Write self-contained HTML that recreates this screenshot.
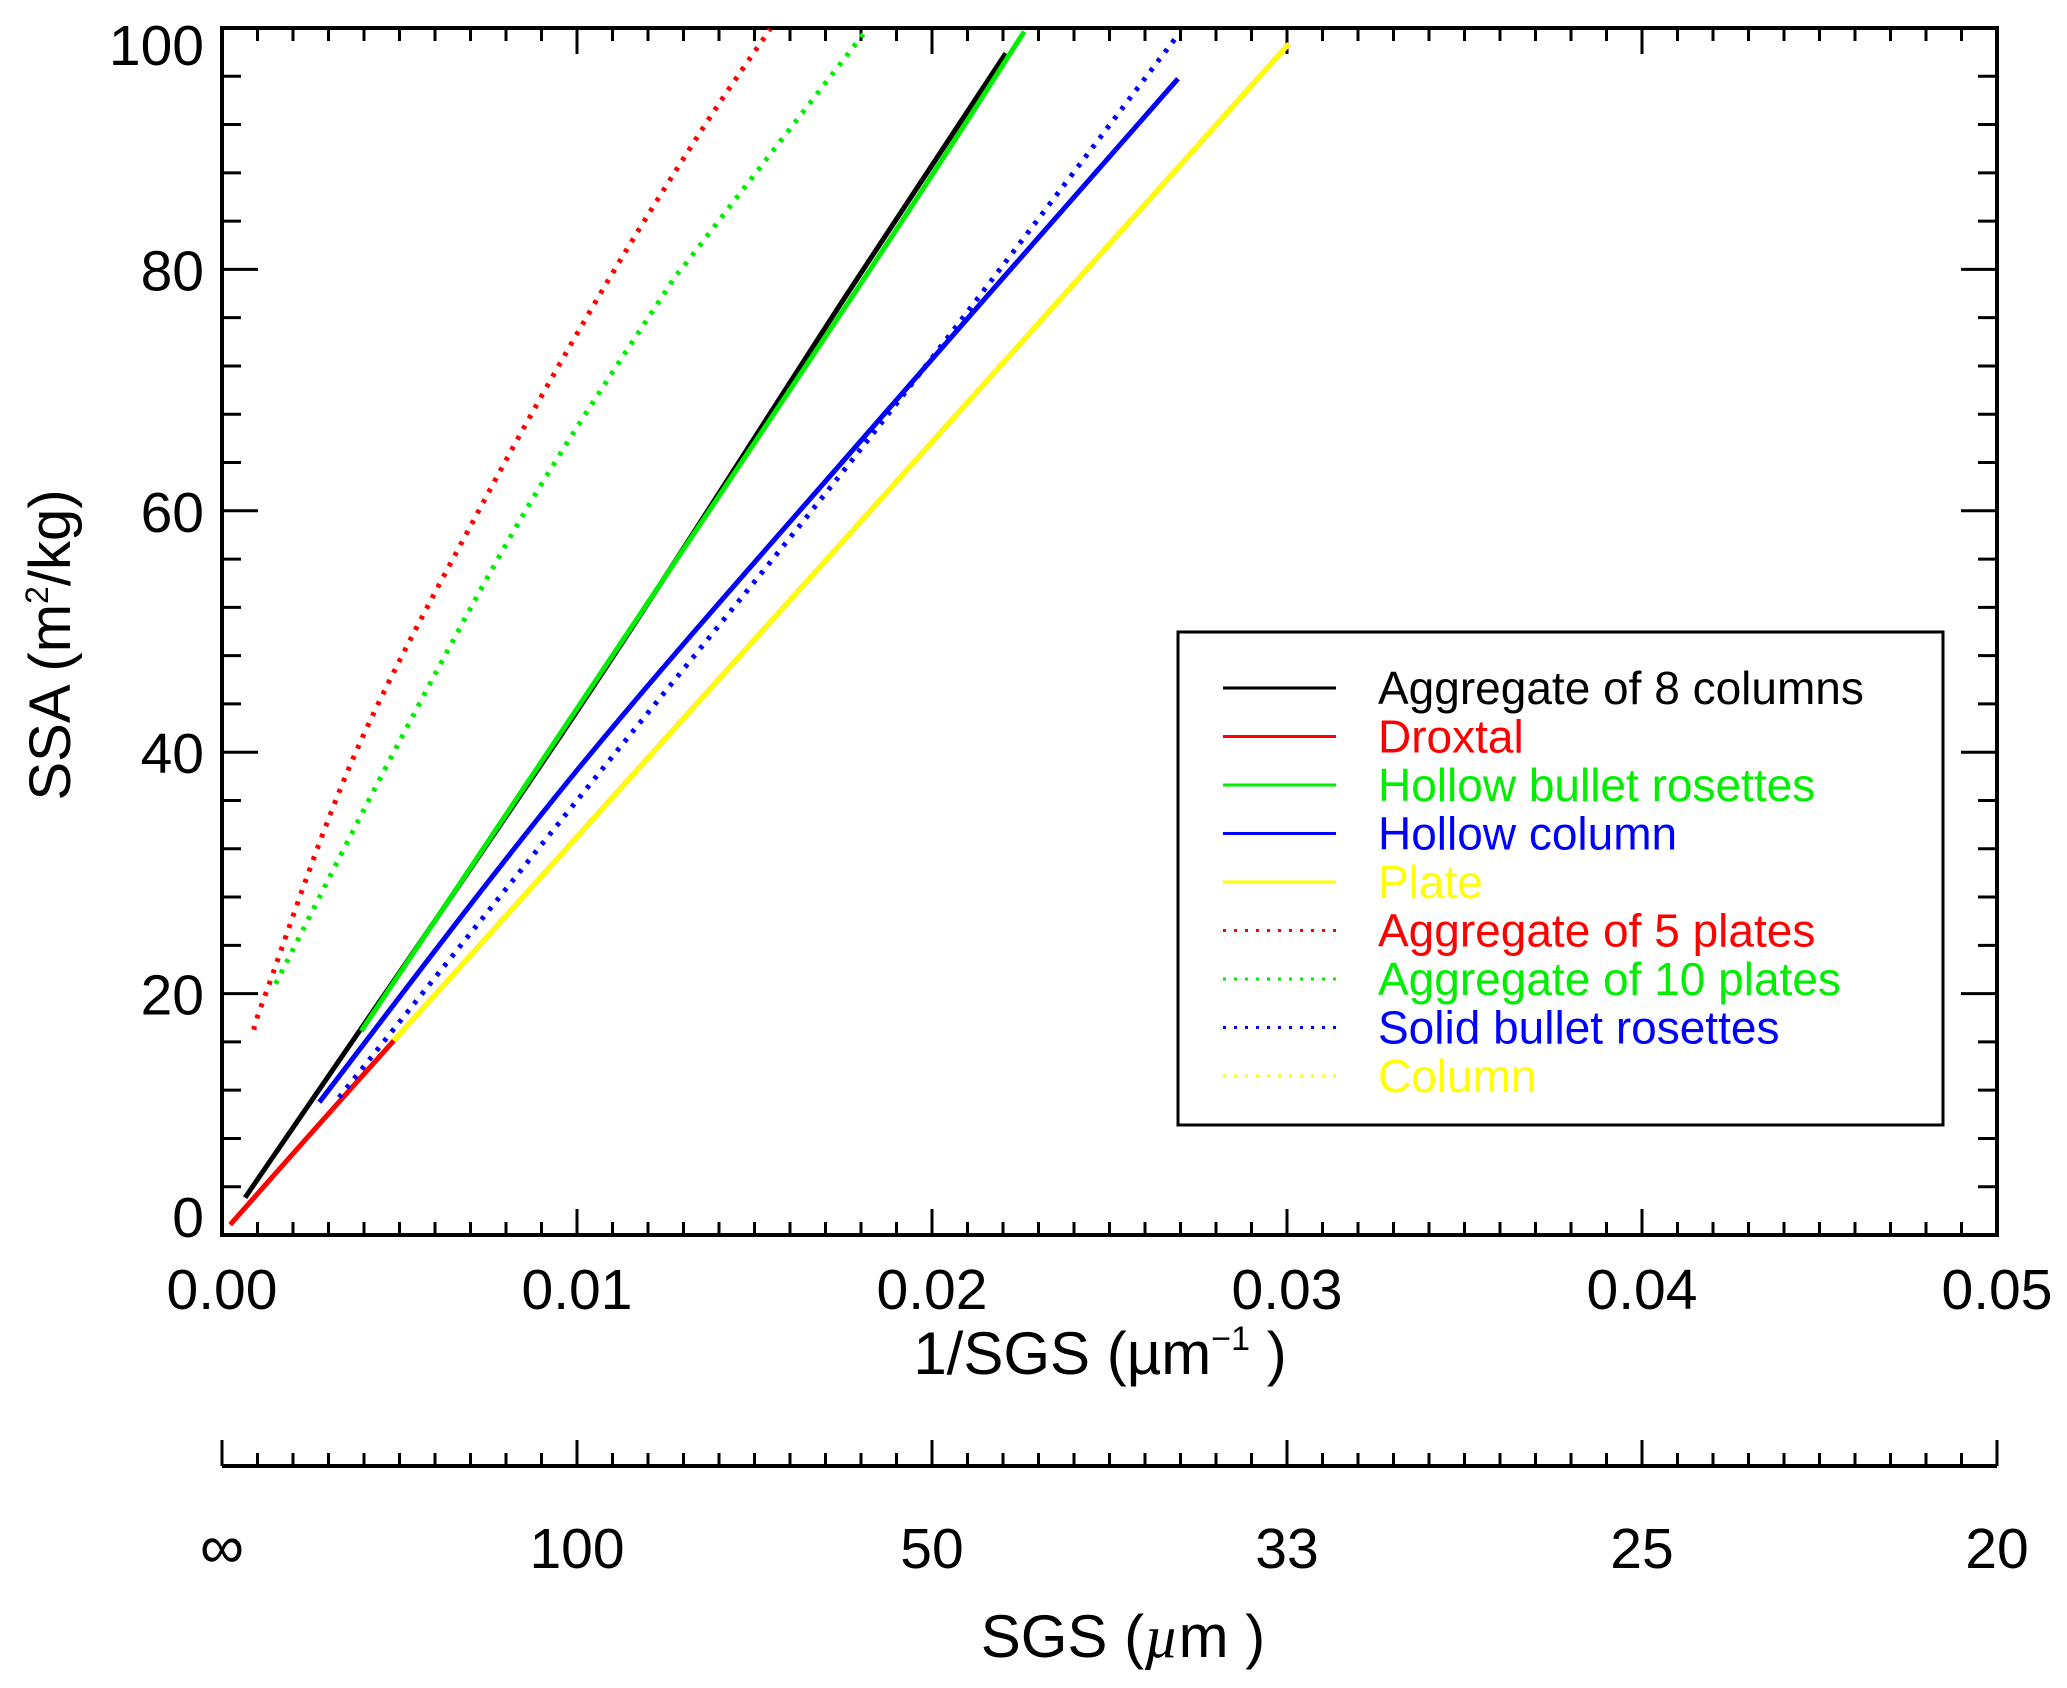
<!DOCTYPE html>
<html><head><meta charset="utf-8"><style>
html,body{margin:0;padding:0;background:#fff;}
svg{display:block;font-family:"Liberation Sans",Arial,sans-serif;}
</style></head><body>
<svg id="chart" width="2067" height="1688" viewBox="0 0 2067 1688" xmlns="http://www.w3.org/2000/svg">
<g id="axes"></g>
<g id="series"></g>
<g id="legend"></g>
<text transform="translate(70,645) rotate(-90)" text-anchor="middle" font-size="58">SSA (m<tspan font-size="32" dy="-22">2</tspan><tspan dy="22">/kg)</tspan></text>
<text x="1100" y="1374" text-anchor="middle" font-size="60">1/SGS (µm<tspan font-size="34" dy="-24">−1</tspan><tspan dy="24">  )</tspan></text>
<text x="1123" y="1657" text-anchor="middle" font-size="60">SGS (<tspan font-style="italic" font-family="Liberation Serif, serif">µ</tspan>m )</text>
</svg>
<script>
const xTicks = [0, 0.01, 0.02, 0.03, 0.04, 0.05];
const xTickLabels = ["0.00", "0.01", "0.02", "0.03", "0.04", "0.05"];
const yTicks = [0, 20, 40, 60, 80, 100];
const yTickLabels = ["0", "20", "40", "60", "80", "100"];
const sgsTickLabels = ["∞", "100", "50", "33", "25", "20"];
const seriesNames = ["Aggregate of 8 columns","Droxtal","Hollow bullet rosettes","Hollow column","Plate","Aggregate of 5 plates","Aggregate of 10 plates","Solid bullet rosettes","Column"];
const seriesColors = ["#000","#f00","#0e0","#00f","#ff0","#f00","#0e0","#00f","#ff0"];
const seriesDotted = [false,false,false,false,false,true,true,true,true];
const agg8X = [0.00065, 0.01, 0.01755, 0.02208];
const agg8Y = [3.1, 43.4, 77.7, 97.9];
const droxtalX = [0.00023, 0.00484, 0.0175, 0.03006];
const droxtalY = [0.85, 16.1, 57.5, 98.7];
const hollowBulletX = [0.00392, 0.01774, 0.0226];
const hollowBulletY = [16.9, 77.7, 99.7];
const hollowColX = [0.00274, 0.01, 0.0185, 0.02693];
const hollowColY = [11.0, 38.5, 67.5, 95.8];
const plateX = [0.00484, 0.0175, 0.03006];
const plateY = [16.1, 57.5, 98.7];
const agg5X = [0.0009, 0.00123, 0.00377, 0.00723, 0.0106, 0.01346, 0.01544];
const agg5Y = [17.0, 20.0, 40.0, 60.0, 77.7, 91.3, 99.9];
const agg10X = [0.00151, 0.00484, 0.00855, 0.01239, 0.01336, 0.0182];
const agg10Y = [20.8, 40.0, 60.0, 77.7, 81.6, 100];
const solidBulletX = [0.0033, 0.01, 0.0185, 0.0269];
const solidBulletY = [11.4, 36.0, 67.0, 99.3];
const columnX = [0.00484, 0.0175, 0.03006];
const columnY = [16.1, 57.5, 98.7];

const NS = "http://www.w3.org/2000/svg";
const L = 222, R = 1997, T = 28, B = 1235, B2 = 1466;
const sx = v => L + (v / 0.05) * (R - L);
const sy = v => B - (v / 100) * (B - T);
function mk(tag, attrs, parent) {
  const e = document.createElementNS(NS, tag);
  for (const k in attrs) e.setAttribute(k, attrs[k]);
  parent.appendChild(e);
  return e;
}
const axes = document.getElementById("axes");
const ln = (x1,y1,x2,y2,w) => mk("line",{x1,y1,x2,y2,stroke:"#000","stroke-width":w},axes);

const frame = mk("rect",{x:L,y:T,width:R-L,height:B-T,fill:"none",stroke:"#000","stroke-width":4},axes);


const ax2 = ln(L,B2,R,B2,4);



for (let i = 0; i <= 50; i++) {
  const v = i * 0.001, x = sx(v), major = i % 10 === 0;
  const len = major ? 26 : 13;
  ln(x,B,x,B-len,3); ln(x,T,x,T+len,3); ln(x,B2,x,B2-len,3);
}
for (let i = 0; i <= 25; i++) {
  const v = i * 4, y = sy(v), major = i % 5 === 0;
  const len = major ? 36 : 19;
  ln(L,y,L+len,y,3); ln(R,y,R-len,y,3);
}
xTicks.forEach((v, i) => {
  const t = mk("text",{x:sx(v),y:1309,"text-anchor":"middle","font-size":57},axes);
  t.textContent = xTickLabels[i];
  
  
  const s = mk("text",{x:sx(v),y:1568,"text-anchor":"middle","font-size":i===0?62:57},axes);
  s.textContent = sgsTickLabels[i];
  
  
});
yTicks.forEach((v, i) => {
  let by = sy(v) + 21;
  if (v === 0) by = 1237;
  if (v === 100) by = 65;
  const t = mk("text",{x:204,y:by,"text-anchor":"end","font-size":57},axes);
  t.textContent = yTickLabels[i];
  
  
});

function smoothPath(pts) {
  let d = "M" + pts[0][0].toFixed(1) + "," + pts[0][1].toFixed(1);
  for (let i = 0; i < pts.length - 1; i++) {
    const p0 = pts[Math.max(0, i - 1)], p1 = pts[i], p2 = pts[i + 1], p3 = pts[Math.min(pts.length - 1, i + 2)];
    const c1 = [p1[0] + (p2[0] - p0[0]) / 6, p1[1] + (p2[1] - p0[1]) / 6];
    const c2 = [p2[0] - (p3[0] - p1[0]) / 6, p2[1] - (p3[1] - p1[1]) / 6];
    d += " C" + c1.map(n=>n.toFixed(1)).join(",") + " " + c2.map(n=>n.toFixed(1)).join(",") + " " + p2[0].toFixed(1) + "," + p2[1].toFixed(1);
  }
  return d;
}

const seriesData = [[agg8X,agg8Y],[droxtalX,droxtalY],[hollowBulletX,hollowBulletY],[hollowColX,hollowColY],[plateX,plateY],[agg5X,agg5Y],[agg10X,agg10Y],[solidBulletX,solidBulletY],[columnX,columnY]];
const sg = document.getElementById("series");
const order = [1,0,2,3,7,5,6,4,8];
order.forEach(i => {
  const [xs, ys] = seriesData[i];
  const pts = xs.map((x, k) => [sx(x), sy(ys[k])]);
  const p = mk("path",{d:smoothPath(pts),fill:"none",stroke:seriesColors[i],"stroke-width":5,"stroke-linejoin":"round"},sg);
  if (seriesDotted[i]) p.setAttribute("stroke-dasharray","4 8");
  
  
});

const lg = document.getElementById("legend");
const box = mk("rect",{x:1178,y:632,width:765,height:493,fill:"#fff",stroke:"#000","stroke-width":3},lg);


seriesNames.forEach((n, i) => {
  const y = 688 + i * 48.5;
  const l = mk("line",{x1:1223,y1:y,x2:1336,y2:y,stroke:seriesColors[i],"stroke-width":3},lg);
  if (seriesDotted[i]) l.setAttribute("stroke-dasharray","3 8");
  
  
  const t = mk("text",{x:1378,y:y+16,"font-size":46,fill:seriesColors[i]},lg);
  t.textContent = n;
  
  
});
</script>
</body></html>
